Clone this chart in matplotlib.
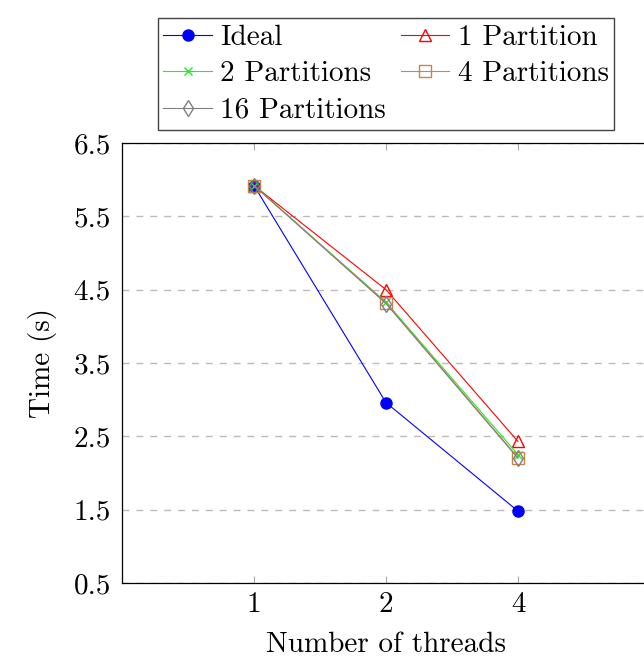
import matplotlib.pyplot as plt

plt.rcParams['font.family'] = 'serif'
plt.rcParams['font.serif'] = ['cmr10']
plt.rcParams['mathtext.fontset'] = 'cm'
plt.rcParams['axes.formatter.use_mathtext'] = True

threads = ['1', '2', '4']
ideal = [5.92, 2.96, 1.48]
part1 = [5.92, 4.50, 2.43]
part2 = [5.92, 4.33, 2.25]
part4 = [5.92, 4.32, 2.21]
part16 = [5.92, 4.31, 2.20]

fig = plt.figure(figsize=(6.44, 6.57), dpi=100)
ax = fig.add_axes([122 / 644, 1 - 583 / 657, 528 / 644, 440 / 657])

xs = range(1, len(threads) + 1)
lw = 0.8
h_ideal, = ax.plot(xs, ideal, color='blue', lw=lw, marker='o', ms=8, label='Ideal')
h_p1, = ax.plot(xs, part1, color='red', lw=lw, marker='^', ms=8, mfc='none', label='1 Partition')
h_p2, = ax.plot(xs, part2, color='#22ee22', lw=lw, marker='x', ms=6, label='2 Partitions')
h_p4, = ax.plot(xs, part4, color='#c8844a', lw=lw, marker='s', ms=9, mfc='none', label='4 Partitions')
h_p16, = ax.plot(xs, part16, color='gray', lw=lw, marker='d', ms=8, mfc='none', label='16 Partitions')

ax.set_xlim(0, 4)
ax.set_ylim(0.5, 6.5)
ax.set_xticks(list(xs))
ax.set_xticklabels(threads)
ax.set_yticks([0.5, 1.5, 2.5, 3.5, 4.5, 5.5, 6.5])
ax.set_yticklabels(['0.5', '1.5', '2.5', '3.5', '4.5', '5.5', '6.5'])
ax.tick_params(labelsize=21)
ax.tick_params(axis='x', direction='in', top=True, length=5, width=0.8, color='#aaaaaa', pad=6)
ax.tick_params(axis='y', direction='in', length=0, pad=8)
ax.yaxis.grid(True, linestyle=(0, (5, 5)), color='#bbbbbb', lw=1)
ax.set_axisbelow(True)
for s in ax.spines.values():
    s.set_linewidth(0.9)

ax.set_xlabel('Number of threads', fontsize=21, labelpad=10)
ax.set_ylabel('Time (s)', fontsize=21, labelpad=12)

# matplotlib fills legend columns first; order so rows read like the original
handles = [h_ideal, h_p2, h_p16, h_p1, h_p4]
ax.legend(handles=handles, labels=[h.get_label() for h in handles],
          loc='lower center', bbox_to_anchor=(0.5, 1.03), ncol=2, fontsize=21,
          fancybox=False, edgecolor='#444444', framealpha=1, borderpad=0.2,
          handlelength=1.65, columnspacing=0.5, handletextpad=0.3, labelspacing=0.35,
          borderaxespad=0)

fig.savefig('out.png', dpi=100)
